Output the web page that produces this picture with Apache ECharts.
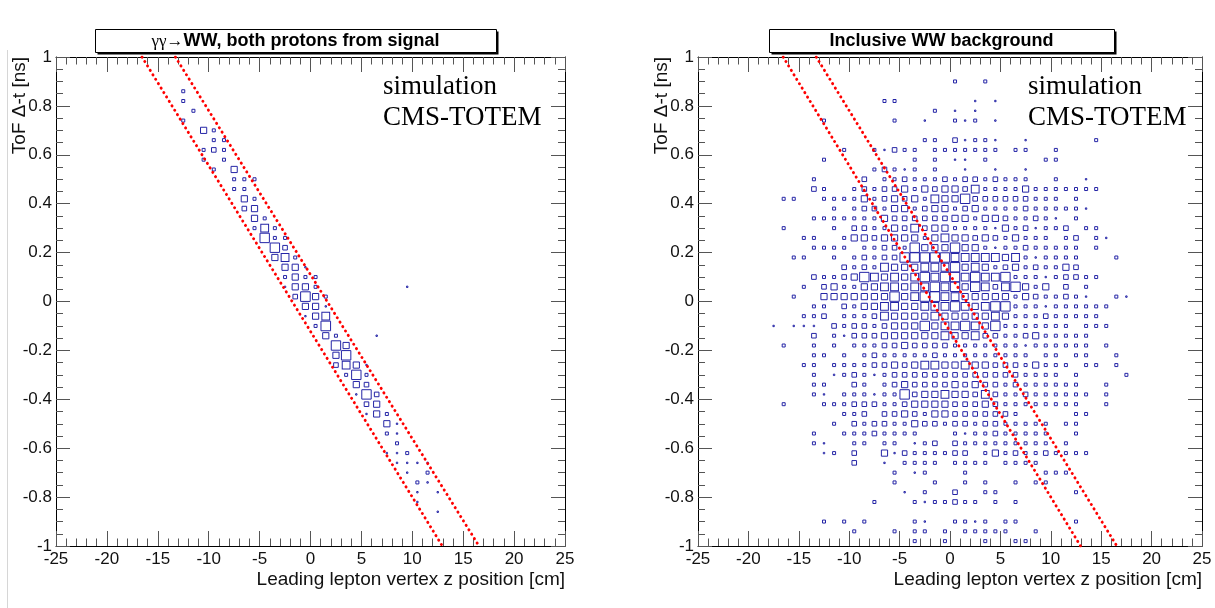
<!DOCTYPE html>
<html>
<head>
<meta charset="utf-8">
<script src="https://cdn.jsdelivr.net/npm/echarts@6/dist/echarts.min.js"></script>
<style>html,body{margin:0;padding:0;background:#fff}#c{width:1215px;height:608px}</style>
</head>
<body>
<div id="c"></div>
<script>
// ---- histogram binning (bin centres) ----
const firstBinZ = -17.5;   // cm, centre of first stored column
const binZ = 1;            // cm
const firstBinT = 0.98;    // ns, centre of first stored row (top)
const binT = 0.04;         // ns

// ---- bin contents, one string per Δt row (top to bottom), one digit per z bin (-17.5 .. 17.5 cm) ----
const Z = '000000 000000 000000 000000 000000 000000';
const signalRows = [
  Z, Z, Z,
  '000002 000000 000000 000000 000000 000000',
  '000002 000000 000000 000000 000000 000000',
  '000000 200000 000000 000000 000000 000000',
  '000002 000000 000000 000000 000000 000000',
  '000000 042000 000000 000000 000000 000000',
  '000000 002200 000000 000000 000000 000000',
  '000000 023200 000000 000000 000000 000000',
  '000000 020200 000000 000000 000000 000000',
  '000000 002040 000000 000000 000000 000000',
  '000000 000022 200000 000000 000000 000000',
  '000000 000022 000000 000000 000000 000000',
  '000000 000004 200000 000000 000000 000000',
  '000000 000003 400000 000000 000000 000000',
  '000000 000000 420000 000000 000000 000000',
  '000000 000000 252000 000000 000000 000000',
  '000000 000000 062200 000000 000000 000000',
  '000000 000000 006300 000000 000000 000000',
  '000000 000000 004520 000000 000000 000000',
  '000000 000000 000441 000000 000000 000000',
  '000000 000000 000242 200000 000000 000000',
  '000000 000000 000144 200000 000100 000000',
  '000000 000000 000037 420000 000000 000000',
  '000000 000000 000004 410000 000000 000000',
  '000000 000000 000001 450000 000000 000000',
  '000000 000000 000000 270000 000000 000000',
  '000000 000000 000000 042000 100000 000000',
  '000000 000000 000000 006400 000000 000000',
  '000000 000000 000000 004600 000000 000000',
  '000000 000000 000000 003541 000000 000000',
  '000000 000000 000000 000262 000000 000000',
  '000000 000000 000000 000043 000000 000000',
  '000000 000000 000000 000016 300000 000000',
  '000000 000000 000000 000003 400000 000000',
  '000000 000000 000000 000001 420000 000000',
  '000000 000000 000000 000000 041000 000000',
  '000000 000000 000000 000000 021000 000000',
  '000000 000000 000000 000000 002000 000000',
  '000000 000000 000000 000000 011200 000000',
  '000000 000000 000000 000000 001111 000000',
  '000000 000000 000000 000000 000102 000000',
  '000000 000000 000000 000000 000021 000000',
  '000000 000000 000000 000000 000010 100000',
  '000000 000000 000000 000000 000010 000000',
  '000000 000000 000000 000000 000000 100000',
  Z, Z, Z
];
const backgroundRows = [
  Z, Z,
  '000000 000000 000000 200200 000000 000000',
  Z,
  '000000 000002 200000 001010 000000 000000',
  '000000 000000 000020 101000 000000 000000',
  '000002 000000 200100 212010 000000 000000',
  Z,
  '000000 000000 000220 312210 010000 002000',
  '000000 020021 322022 222220 220020 000000',
  '000002 000000 002020 110200 000220 000000',
  '000000 000023 212020 010010 010000 000000',
  '000020 000302 232223 233232 220020 010000',
  '000032 002323 342434 435222 242222 222000',
  '022002 222423 434254 463333 332220 200000',
  '000000 202332 442344 234222 232222 210000',
  '000022 222224 333333 442443 223210 200000',
  '020000 203322 435344 222214 231223 022000',
  '000220 024434 444245 443432 422202 302100',
  '000022 220223 326444 644212 232222 202000',
  '002200 202323 366666 555554 521222 200020',
  '000000 032325 444555 645423 423224 300000',
  '000032 234654 545656 656556 222123 322000',
  '000203 422445 545565 646535 642403 020000',
  '002004 444444 645675 544444 243223 210021',
  '000022 032445 544555 654566 222122 222200',
  '000223 022235 444454 444454 222322 222000',
  '101110 323323 444645 565462 222222 022200',
  '000030 213334 444445 445332 234222 220000',
  '020020 202223 343333 222222 212222 220200',
  '000022 020232 222232 222222 220220 220020',
  '000220 222233 434554 454433 324222 022020',
  '000020 123212 333333 333333 322220 200002',
  '000022 003202 343333 434332 322222 200200',
  '000021 022212 263445 443532 232222 220200',
  '020002 223332 234444 333432 222222 200200',
  '000000 022303 343244 333333 200000 220000',
  '000000 203233 224332 332332 222202 200000',
  '000020 022232 222000 212232 222200 200000',
  '000021 002202 201230 322222 222202 000000',
  '000001 203004 132222 330242 322322 220000',
  '000000 003001 022220 222202 222000 000000',
  '000000 000000 201200 020000 000222 000000',
  '000000 000000 200020 020200 202200 000000',
  '000000 000000 010200 300220 000000 200000',
  '000000 000020 002122 322020 200000 000000',
  Z,
  '000002 020200 002100 221202 200000 200000',
  '000000 002000 202202 022222 002000 000000',
  '000000 000000 002002 000200 220000 000000'
];

// ---- ToF selection band (z [cm], Δt [ns]) ----
const cutLow  = [[-16.55, 1], [12.95, -1]];
const cutHigh = [[-13.27, 1], [16.55, -1]];

// ---- texts ----
const titles = ['{g|γγ→}{b|WW, both protons from signal}', '{b|Inclusive WW background}'];
const xTitle = 'Leading lepton vertex z position [cm]';
const yTitle = 'ToF Δ-t [ns]';
const labelLines = ['simulation', 'CMS-TOTEM'];

function cells(rows) {
  const out = [];
  rows.forEach((r, k) => {
    const s = r.replace(/ /g, '');
    for (let j = 0; j < s.length; j++) {
      const c = +s[j];
      if (c > 0) out.push([firstBinZ + j * binZ, +(firstBinT - k * binT).toFixed(2), c]);
    }
  });
  return out;
}

const FONT = 'Liberation Sans, Arial, Helvetica, sans-serif';
const grids = [
  {left: 56, top: 57, width: 509, height: 489},
  {left: 698, top: 57, width: 504, height: 489}
];

function xAx(gi, pos) {
  return {
    type: 'value', gridIndex: gi, position: pos, min: -25, max: 25, interval: 5,
    axisLine: {show: true, onZero: false, lineStyle: {color: '#000', width: 1}},
    axisTick: {show: true, inside: true, length: 15, lineStyle: {color: '#555', width: 1}},
    minorTick: {show: true, splitNumber: 5, length: 7.5, lineStyle: {color: '#555', width: 1}},
    splitLine: {show: false},
    axisLabel: {show: pos === 'bottom', fontSize: 17, fontFamily: FONT, color: '#111', margin: 5,
                showMinLabel: true, showMaxLabel: true, hideOverlap: false}
  };
}
function yAx(gi, pos) {
  return {
    type: 'value', gridIndex: gi, position: pos, min: -1, max: 1, interval: 0.2,
    axisLine: {show: true, onZero: false, lineStyle: {color: '#000', width: 1}},
    axisTick: {show: true, inside: true, length: 14, lineStyle: {color: '#555', width: 1}},
    minorTick: {show: true, splitNumber: 4, length: 7, lineStyle: {color: '#555', width: 1}},
    splitLine: {show: false},
    axisLabel: {show: pos === 'left', fontSize: 17, fontFamily: FONT, color: '#111', margin: 4,
                showMinLabel: true, showMaxLabel: true, hideOverlap: false}
  };
}

function boxSeries(rows, gi) {
  return {
    type: 'scatter', xAxisIndex: gi, yAxisIndex: gi, data: cells(rows),
    symbol: 'rect', symbolSize: v => Math.min(1.6 * v[2] - 0.2, 9.6),
    itemStyle: {color: 'rgba(0,0,0,0)', borderColor: '#2424a6', borderWidth: 1, opacity: 1},
    silent: true, z: 2
  };
}
function cutSeries(pts, gi) {
  return {
    type: 'line', xAxisIndex: gi, yAxisIndex: gi, data: pts, showSymbol: false, symbol: 'none',
    lineStyle: {color: '#ff0000', width: 2.9, type: [0.2, 5.0], cap: 'round'},
    silent: true, clip: true, z: 3
  };
}

function titleBox(x, y, w, h, text) {
  return [
    {type: 'rect', shape: {x: x + 2.5, y: y + 2.5, width: w, height: h}, style: {fill: '#000'}, silent: true},
    {type: 'rect', shape: {x: x + 0.5, y: y + 0.5, width: w, height: h}, style: {fill: '#fff', stroke: '#000', lineWidth: 1}, silent: true},
    {type: 'text', x: x + w / 2, y: y + h / 2 + 1, silent: true,
     style: {text: text, align: 'center', verticalAlign: 'middle', textAlign: 'center', textVerticalAlign: 'middle',
             rich: {g: {fontFamily: 'Liberation Serif, serif', fontSize: 17, fill: '#000'},
                    b: {fontFamily: FONT, fontWeight: 'bold', fontSize: 18, fill: '#000'}}}}
  ];
}
function simLabel(x) {
  return [
    {type: 'text', x: x, y: 87, silent: true,
     style: {text: labelLines[0], font: '27px "Liberation Serif", "Times New Roman", serif', fill: '#000',
             align: 'left', verticalAlign: 'middle', textAlign: 'left', textVerticalAlign: 'middle'}},
    {type: 'text', x: x, y: 118, silent: true,
     style: {text: labelLines[1], font: '27px "Liberation Serif", "Times New Roman", serif', fill: '#000',
             align: 'left', verticalAlign: 'middle', textAlign: 'left', textVerticalAlign: 'middle'}}
  ];
}
function axisTitles(g, yx) {
  return [
    {type: 'text', x: g.left + g.width, y: 570, silent: true,
     style: {text: xTitle, font: '19px ' + FONT, fill: '#111', align: 'right', verticalAlign: 'top',
             textAlign: 'right', textVerticalAlign: 'top'}},
    {type: 'text', x: yx, y: g.top, rotation: Math.PI / 2, silent: true,
     style: {text: yTitle, font: '19px ' + FONT, fill: '#111', align: 'right', verticalAlign: 'middle',
             textAlign: 'right', textVerticalAlign: 'middle'}}
  ];
}

const chart = echarts.init(document.getElementById('c'), null, {renderer: 'canvas', width: 1215, height: 608});
chart.setOption({
  animation: false,
  backgroundColor: '#fff',
  grid: grids.map(g => Object.assign({containLabel: false, outerBoundsMode: 'none'}, g)),
  xAxis: [xAx(0, 'bottom'), xAx(1, 'bottom'), xAx(0, 'top'), xAx(1, 'top')],
  yAxis: [yAx(0, 'left'), yAx(1, 'left'), yAx(0, 'right'), yAx(1, 'right')],
  series: [
    boxSeries(signalRows, 0), cutSeries(cutLow, 0), cutSeries(cutHigh, 0),
    boxSeries(backgroundRows, 1), cutSeries(cutLow, 1), cutSeries(cutHigh, 1)
  ],
  graphic: [
    {type: 'line', shape: {x1: 7.5, y1: 50, x2: 7.5, y2: 608}, style: {stroke: '#d6d6d6', lineWidth: 1}, silent: true},
    ...titleBox(95, 29, 401, 23, titles[0]),
    ...titleBox(769, 29, 345, 23, titles[1]),
    ...simLabel(383),
    ...simLabel(1028),
    ...axisTitles(grids[0], 20),
    ...axisTitles(grids[1], 662)
  ]
});
</script>
</body>
</html>
